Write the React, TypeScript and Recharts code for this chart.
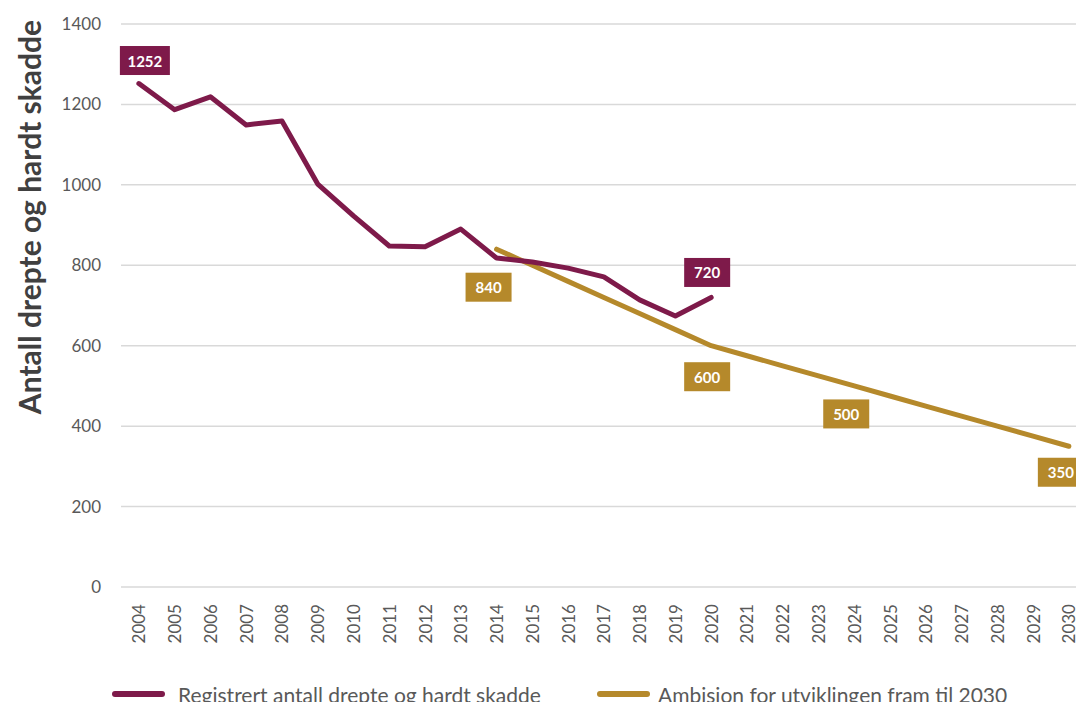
import { CartesianGrid, LabelList, Legend, Line, LineChart, XAxis, YAxis } from "recharts";

const years = [
  2004, 2005, 2006, 2007, 2008, 2009, 2010, 2011, 2012, 2013, 2014, 2015, 2016, 2017,
  2018, 2019, 2020, 2021, 2022, 2023, 2024, 2025, 2026, 2027, 2028, 2029, 2030,
];

// registrert 2004–2020
const registered = [1252, 1187, 1219, 1149, 1159, 1002, 923, 848, 846, 890, 818, 808, 793, 771, 714, 674, 720];

// ambisjon 2014–2030
const ambitionStart = 2014;
const ambition = [840, 800, 760, 720, 680, 640, 600, 575, 550, 525, 500, 475, 450, 425, 400, 375, 350];

const yTicks = [0, 200, 400, 600, 800, 1000, 1200, 1400];

const MAROON = "#7e1a4a";
const GOLD = "#b5892b";
const FONT = "Lato, 'Open Sans', sans-serif";

const data = years.map((year, i) => ({
  year,
  registered: i < registered.length ? registered[i] : null,
  ambition: year >= ambitionStart ? ambition[year - ambitionStart] : null,
}));

// where the value boxes sit relative to their point
const maroonLabels: Record<number, [number, number]> = { 2004: [6, -23], 2020: [-4, -25] };
const goldLabels: Record<number, [number, number]> = {
  2014: [-8, 38],
  2020: [-4, 31],
  2024: [-8, 28],
  2030: [-8, 26],
};

const makeBoxLabel = (color: string, which: Record<number, [number, number]>) => (props: any) => {
  const { x, y, value, index } = props;
  const year = years[index];
  const off = which[year];
  if (!off || value == null) return null;
  const w = String(value).length > 3 ? 50 : 46;
  const h = 29;
  const cx = x + off[0];
  const cy = y + off[1];
  return (
    <g>
      <rect x={cx - w / 2} y={cy - h / 2} width={w} height={h} fill={color} />
      <text
        x={cx}
        y={cy}
        textAnchor="middle"
        dominantBaseline="central"
        fill="#fff"
        fontFamily={FONT}
        fontWeight={700}
        fontSize={15}
      >
        {value}
      </text>
    </g>
  );
};

const YearTick = ({ x, y, payload }: any) => (
  <text
    x={x}
    y={y}
    transform={`rotate(-90 ${x} ${y})`}
    textAnchor="end"
    dominantBaseline="central"
    fill="#595959"
    fontFamily={FONT}
    fontSize={17}
  >
    {payload.value}
  </text>
);

const LegendContent = () => (
  <div style={{ position: "relative", height: 24, fontFamily: FONT, fontSize: 21, color: "#595959" }}>
    {[
      { color: MAROON, name: "Registrert antall drepte og hardt skadde", left: 112, gap: 13 },
      { color: GOLD, name: "Ambision for utviklingen fram til 2030", left: 597, gap: 8 },
    ].map((item) => (
      <div
        key={item.name}
        style={{ position: "absolute", left: item.left, top: 0, height: 24, display: "flex", alignItems: "center", whiteSpace: "nowrap" }}
      >
        <span style={{ display: "inline-block", width: 53, height: 6, borderRadius: 3, background: item.color, marginRight: item.gap }} />
        <span>{item.name}</span>
      </div>
    ))}
  </div>
);

export default function App() {
  return (
    <div style={{ position: "absolute", left: 0, top: 0, width: 1076, height: 702, overflow: "hidden", background: "#fff" }}>
      <LineChart width={1076} height={706} data={data} margin={{ top: 24, right: 0, bottom: 0, left: 0 }}>
        <CartesianGrid vertical={false} stroke="#d9d9d9" strokeWidth={1.5} />
        <XAxis
          dataKey="year"
          type="number"
          domain={[2003.5, 2030.2]}
          ticks={years}
          interval={0}
          axisLine={false}
          tickLine={false}
          tickSize={0}
          tickMargin={17}
          height={95}
          tick={<YearTick />}
        />
        <YAxis
          domain={[0, 1400]}
          ticks={yTicks}
          width={121}
          axisLine={false}
          tickLine={false}
          tickSize={0}
          tickMargin={20}
          tick={{ fill: "#595959", fontFamily: FONT, fontSize: 17 }}
          label={{
            content: ({ viewBox }: any) => (
              <text
                x={29}
                y={viewBox.y + 193}
                transform={`rotate(-90 29 ${viewBox.y + 193})`}
                textAnchor="middle"
                dominantBaseline="central"
                fill="#404040"
                fontFamily={FONT}
                fontWeight={700}
                fontSize={30}
              >
                Antall drepte og hardt skadde
              </text>
            ),
          }}
        />
        <Legend verticalAlign="bottom" content={<LegendContent />} />
        <Line
          dataKey="ambition"
          stroke={GOLD}
          strokeWidth={5}
          strokeLinecap="round"
          strokeLinejoin="round"
          dot={false}
          activeDot={false}
          connectNulls={false}
          isAnimationActive={false}
        >
          <LabelList dataKey="ambition" content={makeBoxLabel(GOLD, goldLabels)} />
        </Line>
        <Line
          dataKey="registered"
          stroke={MAROON}
          strokeWidth={5}
          strokeLinecap="round"
          strokeLinejoin="round"
          dot={false}
          activeDot={false}
          connectNulls={false}
          isAnimationActive={false}
        >
          <LabelList dataKey="registered" content={makeBoxLabel(MAROON, maroonLabels)} />
        </Line>
      </LineChart>
    </div>
  );
}
